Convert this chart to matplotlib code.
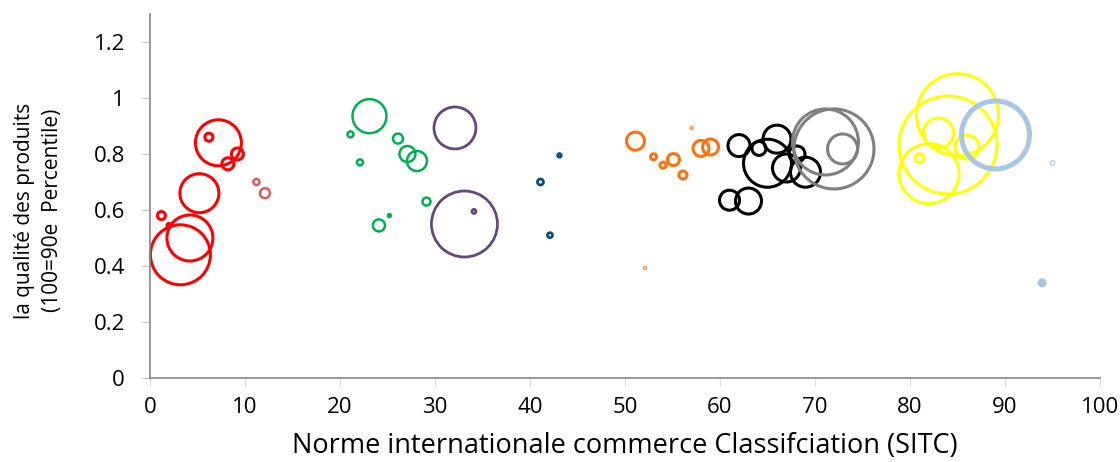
import matplotlib.pyplot as plt
from matplotlib.ticker import FuncFormatter

plt.rcParams['font.family'] = ['Open Sans', 'DejaVu Sans']

# SITC code, quality (100=90e percentile), bubble radius in pixels
red_x = [3.2, 4.2, 5.2, 7.2, 6.2, 8.2, 9.2, 1.2, 2.0]
red_y = [0.44, 0.50, 0.66, 0.84, 0.86, 0.765, 0.80, 0.58, 0.545]
red_r = [30, 23, 19.5, 23, 4, 6, 6, 4, 2]

lred_x = [11.2, 12.1]
lred_y = [0.70, 0.66]
lred_r = [3, 5]

green_x = [23.1, 21.1, 26.1, 27.1, 28.1, 22.1, 29.1, 25.2, 24.1]
green_y = [0.935, 0.87, 0.855, 0.80, 0.775, 0.77, 0.63, 0.58, 0.545]
green_r = [17, 3, 5, 8, 10, 3, 4, 1.5, 6]

purple_x = [32.1, 33.1, 34.1]
purple_y = [0.893, 0.55, 0.595]
purple_r = [21, 33, 2]

dblue_x = [43.1, 41.1, 42.1]
dblue_y = [0.795, 0.70, 0.51]
dblue_r = [1.8, 3, 2.5]

orange_x = [51.1, 53.0, 54.0, 55.1, 56.1, 58.0, 59.0]
orange_y = [0.846, 0.79, 0.76, 0.78, 0.725, 0.82, 0.825]
orange_r = [9, 3, 3, 6, 4, 8, 8]

lorange_x = [57.0, 52.1]
lorange_y = [0.893, 0.393]
lorange_r = [1.5, 1.5]

black_x = [62.0, 64.1, 66.0, 65.0, 68.1, 67.0, 69.0, 61.0, 63.0]
black_y = [0.83, 0.82, 0.853, 0.767, 0.80, 0.75, 0.735, 0.635, 0.632]
black_r = [11, 7, 14, 24, 8, 14, 15, 10, 13]

grey_x = [72.0, 71.1, 72.9]
grey_y = [0.818, 0.843, 0.818]
grey_r = [40, 33, 15]

yellow_x = [85.0, 84.0, 83.0, 86.0, 82.0, 81.0]
yellow_y = [0.94, 0.832, 0.875, 0.825, 0.73, 0.785]
yellow_r = [41, 49, 15, 12, 30, 4.5]

lblue_x = [89.0, 95.0, 93.9]
lblue_y = [0.868, 0.768, 0.34]
lblue_r = [34, 2.2, 2.5]

series = [
    (red_x, red_y, red_r, '#FF0000', 2.2),
    (lred_x, lred_y, lred_r, '#E05A5A', 1.8),
    (green_x, green_y, green_r, '#00B050', 1.8),
    (purple_x, purple_y, purple_r, '#604A7B', 2.0),
    (dblue_x, dblue_y, dblue_r, '#0F4C81', 2.0),
    (orange_x, orange_y, orange_r, '#FF7010', 2.2),
    (lorange_x, lorange_y, lorange_r, '#F79646', 1.0),
    (black_x, black_y, black_r, '#000000', 2.2),
    (grey_x, grey_y, grey_r, '#808080', 2.2),
    (yellow_x, yellow_y, yellow_r, '#FFFF00', 2.2),
    (lblue_x, lblue_y, lblue_r, '#A9C6E4', [3.6, 0.9, 3.0]),
]

fig = plt.figure(figsize=(11.2, 4.62), dpi=100)
ax = fig.add_axes([150/1120, 1 - 378/462, 950/1120, 364/462])

for xs, ys, rs, col, lw in series:
    s = [(2 * r * 0.72) ** 2 for r in rs]
    ax.scatter(xs, ys, s=s, facecolors='none', edgecolors=col,
               linewidths=lw, clip_on=False)

ax.set_xlim(0, 100)
ax.set_ylim(0, 1.3)
ax.set_xticks(range(0, 101, 10))
ax.set_yticks([0, 0.2, 0.4, 0.6, 0.8, 1.0, 1.2])
ax.yaxis.set_major_formatter(FuncFormatter(lambda v, p: '%g' % v))

for side in ['top', 'right']:
    ax.spines[side].set_visible(False)
for side in ['left', 'bottom']:
    ax.spines[side].set_color('#868686')
    ax.spines[side].set_linewidth(1.2)
ax.tick_params(axis='y', length=6, color='#BFBFBF', labelsize=16, pad=12)
ax.tick_params(axis='x', length=6, color='#D9D9D9', labelsize=16, pad=8)

ax.set_xlabel('Norme internationale commerce Classifciation (SITC)', fontsize=19.5, labelpad=10)
ax.set_ylabel('la qualité des produits\n(100=90e  Percentile)', fontsize=15,
              linespacing=1.4)
ax.yaxis.set_label_coords(-0.092, 0.46)

fig.savefig('out.png', dpi=100)
